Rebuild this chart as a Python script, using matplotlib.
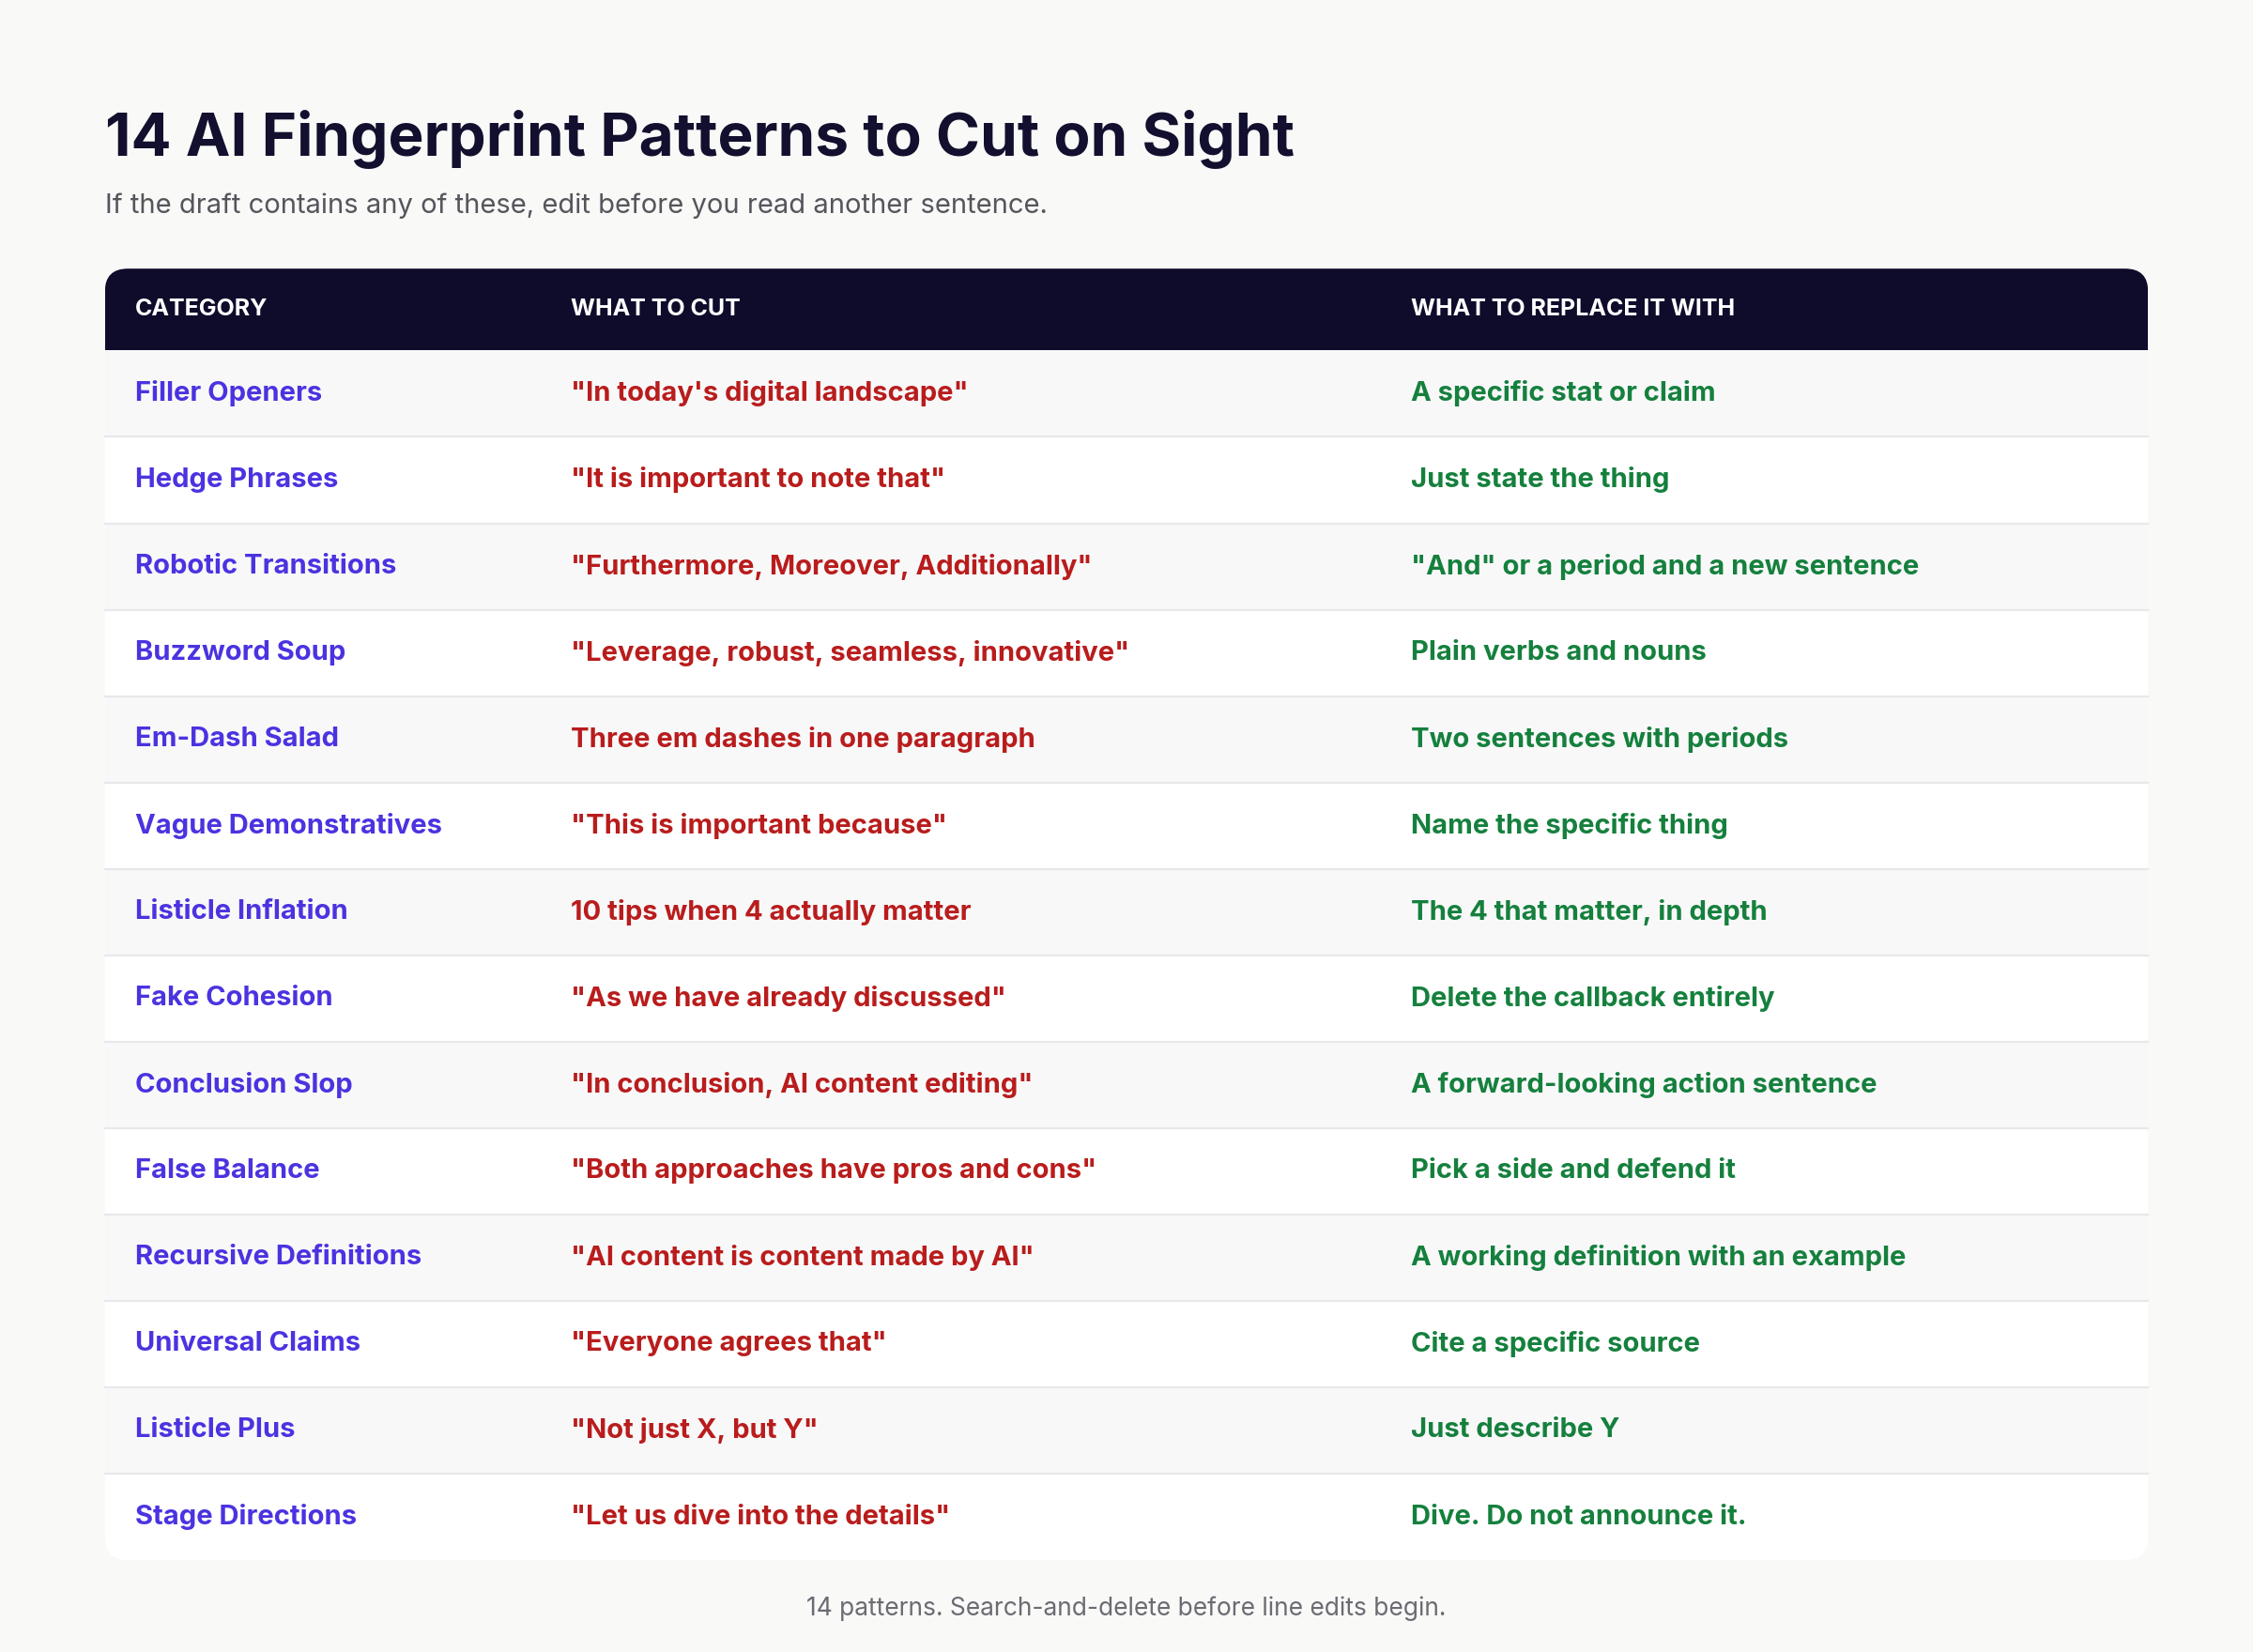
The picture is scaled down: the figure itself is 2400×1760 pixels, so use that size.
import matplotlib
matplotlib.use("Agg")
import matplotlib.pyplot as plt
from matplotlib.patches import FancyBboxPatch, Rectangle

plt.rcParams['font.family'] = ['Inter', 'DejaVu Sans']

# ── Data ──────────────────────────────────────────────────────────────────────
TITLE = "14 AI Fingerprint Patterns to Cut on Sight"
SUBTITLE = "If the draft contains any of these, edit before you read another sentence."
FOOTER = "14 patterns. Search-and-delete before line edits begin."
HEADERS = ["CATEGORY", "WHAT TO CUT", "WHAT TO REPLACE IT WITH"]

categories = [
    "Filler Openers", "Hedge Phrases", "Robotic Transitions", "Buzzword Soup",
    "Em-Dash Salad", "Vague Demonstratives", "Listicle Inflation", "Fake Cohesion",
    "Conclusion Slop", "False Balance", "Recursive Definitions", "Universal Claims",
    "Listicle Plus", "Stage Directions",
]
cuts = [
    '"In today\'s digital landscape"', '"It is important to note that"',
    '"Furthermore, Moreover, Additionally"', '"Leverage, robust, seamless, innovative"',
    "Three em dashes in one paragraph", '"This is important because"',
    "10 tips when 4 actually matter", '"As we have already discussed"',
    '"In conclusion, AI content editing"', '"Both approaches have pros and cons"',
    '"AI content is content made by AI"', '"Everyone agrees that"',
    '"Not just X, but Y"', '"Let us dive into the details"',
]
replacements = [
    "A specific stat or claim", "Just state the thing",
    '"And" or a period and a new sentence', "Plain verbs and nouns",
    "Two sentences with periods", "Name the specific thing",
    "The 4 that matter, in depth", "Delete the callback entirely",
    "A forward-looking action sentence", "Pick a side and defend it",
    "A working definition with an example", "Cite a specific source",
    "Just describe Y", "Dive. Do not announce it.",
]

# ── Layout (reference pixel space 1568 x 1150) ────────────────────────────────
W, H = 1568, 1150
X0, X1 = 73, 1495
HEAD_TOP, HEAD_BOT = 187, 244
ROW_H = (1086 - HEAD_BOT) / len(categories)
COL_X = [94, 397, 982]

fig = plt.figure(figsize=(12, 8.8), dpi=200, facecolor="#f9f9f8")
ax = fig.add_axes([0, 0, 1, 1])
ax.set_xlim(0, W)
ax.set_ylim(H, 0)
ax.axis("off")

ax.text(X0, 97, TITLE, fontsize=23, fontweight="bold", color="#12102e", va="center")
ax.text(X0, 143, SUBTITLE, fontsize=10.5, color="#55555c", va="center")

# table card
card = FancyBboxPatch((X0, HEAD_TOP), X1 - X0, 1086 - HEAD_TOP,
                      boxstyle="round,pad=0,rounding_size=16",
                      facecolor="white", edgecolor="none", zorder=1)
ax.add_patch(card)

head = Rectangle((X0, HEAD_TOP), X1 - X0, HEAD_BOT - HEAD_TOP,
                 facecolor="#0e0b2b", edgecolor="none", zorder=2)
ax.add_patch(head)
head.set_clip_path(card)

for x, h in zip(COL_X, HEADERS):
    ax.text(x, (HEAD_TOP + HEAD_BOT) / 2, h, fontsize=9, fontweight="bold",
            color="white", va="center", zorder=3)

for i, (c, cut, rep) in enumerate(zip(categories, cuts, replacements)):
    top = HEAD_BOT + i * ROW_H
    if i % 2 == 0:
        r = Rectangle((X0, top), X1 - X0, ROW_H, facecolor="#f8f8f9",
                      edgecolor="none", zorder=2)
        ax.add_patch(r)
        r.set_clip_path(card)
    if i > 0:
        ax.plot([X0, X1], [top, top], color="#e8e8ec", lw=0.8, zorder=2.5)
    yc = top + ROW_H / 2
    ax.text(COL_X[0], yc, c, fontsize=10.5, fontweight="bold", color="#4a33e0", va="center", zorder=3)
    ax.text(COL_X[1], yc, cut, fontsize=10.5, fontweight="bold", color="#b91c1c", va="center", zorder=3)
    ax.text(COL_X[2], yc, rep, fontsize=10.5, fontweight="bold", color="#15803d", va="center", zorder=3)

ax.text(W / 2, 1120, FOOTER, fontsize=9.5, color="#6b6b73", ha="center", va="center")

fig.savefig("out.png", dpi=200, facecolor=fig.get_facecolor())
